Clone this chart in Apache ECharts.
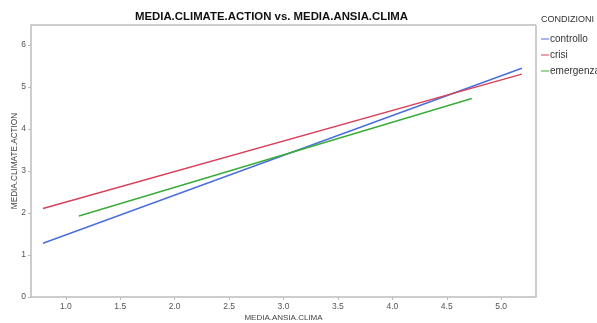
<!DOCTYPE html>
<html><head><meta charset="utf-8">
<script src="https://cdn.jsdelivr.net/npm/echarts@6/dist/echarts.min.js"></script>
<style>html,body{margin:0;padding:0;background:#fff}#c{width:597px;height:323px}</style>
</head><body><div id="c"></div>
<script>
const seriesNames = ['controllo', 'crisi', 'emergenza'];
const colors = ['#4a6fdc', '#d9415a', '#3bab3b'];
const controllo = [[0.79, 1.28], [5.19, 5.45]];
const crisi = [[0.79, 2.11], [5.19, 5.31]];
const emergenza = [[1.12, 1.93], [4.73, 4.73]];
const xTicks = [1.0, 1.5, 2.0, 2.5, 3.0, 3.5, 4.0, 4.5, 5.0];
const yTicks = [0, 1, 2, 3, 4, 5, 6];
const dataSets = [controllo, crisi, emergenza];

const chart = echarts.init(document.getElementById('c'));
chart.setOption({
  animation: false,
  title: {
    text: 'MEDIA.CLIMATE.ACTION vs. MEDIA.ANSIA.CLIMA',
    left: 271.5, top: 11, textAlign: 'center', padding: 0,
    textStyle: {fontFamily: 'Liberation Sans', fontSize: 11.4, fontWeight: 'bold', color: '#111'}
  },
  graphic: [{
    type: 'text', left: 541, top: 15,
    style: {text: 'CONDIZIONI', fontFamily: 'Liberation Sans', fontSize: 9, fill: '#333'}
  }],
  legend: {
    orient: 'vertical', left: 541, top: 33, itemGap: 4, padding: 0,
    itemWidth: 8, itemHeight: 12, icon: 'path://M0,5L8,5L8,6L0,6Z',
    textStyle: {fontFamily: 'Liberation Sans', fontSize: 10, color: '#333', padding: [0, 0, 0, -4], lineHeight: 12},
    data: seriesNames
  },
  grid: {left: 31, right: 61, top: 25, bottom: 26, outerBoundsMode: 'none', containLabel: false},
  xAxis: {
    type: 'value', min: 0.68, max: 5.32,
    name: 'MEDIA.ANSIA.CLIMA', nameLocation: 'middle', nameGap: 16.5, nameMoveOverlap: false,
    nameTextStyle: {fontFamily: 'Liberation Sans', fontSize: 8, color: '#444'},
    axisLine: {show: true, lineStyle: {color: '#bdbdbd', width: 1.5}},
    axisTick: {show: true, customValues: xTicks, length: 3, lineStyle: {color: '#bdbdbd'}},
    axisLabel: {customValues: xTicks, formatter: v => v.toFixed(1), fontFamily: 'Liberation Sans', fontSize: 8.5, color: '#555', margin: 5},
    splitLine: {show: false}
  },
  yAxis: {
    type: 'value', min: 0, max: 6.48,
    name: 'MEDIA.CLIMATE.ACTION', nameLocation: 'middle', nameGap: 12, nameMoveOverlap: false,
    nameTextStyle: {fontFamily: 'Liberation Sans', fontSize: 8.2, color: '#444'},
    axisLine: {show: true, lineStyle: {color: '#bdbdbd', width: 1.5}},
    axisTick: {show: true, customValues: yTicks, length: 3, lineStyle: {color: '#bdbdbd'}},
    axisLabel: {customValues: yTicks, fontFamily: 'Liberation Sans', fontSize: 8.5, color: '#555', margin: 5},
    splitLine: {show: false}
  },
  series: seriesNames.map((n, i) => ({
    name: n, type: 'line', data: dataSets[i], showSymbol: false, symbol: 'none',
    lineStyle: {color: colors[i], width: 1.5}, itemStyle: {color: colors[i]}
  })).concat([{
    type: 'line', data: [], silent: true,
    markLine: {silent: true, symbol: 'none', label: {show: false},
      lineStyle: {color: '#bdbdbd', width: 1.5, type: 'solid'},
      data: [[{xAxis: 0.68, yAxis: 6.48}, {xAxis: 5.32, yAxis: 6.48}], [{xAxis: 5.32, yAxis: 0}, {xAxis: 5.32, yAxis: 6.48}]]}
  }])
});
</script></body></html>
